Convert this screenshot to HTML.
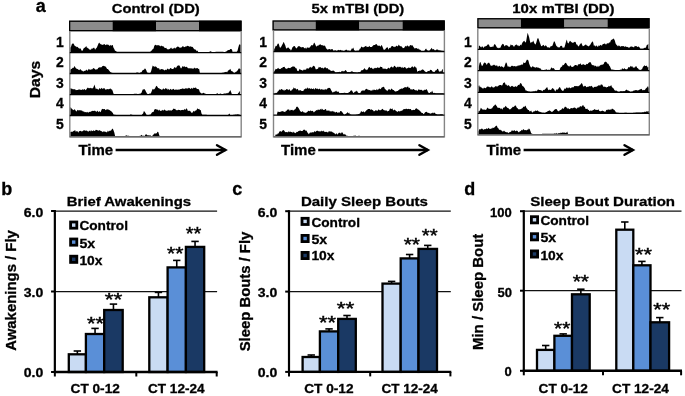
<!DOCTYPE html>
<html><head><meta charset="utf-8"><style>
html,body{margin:0;padding:0;background:#fff;}
svg{display:block;will-change:transform;}
</style></head><body>
<svg width="685" height="396" viewBox="0 0 685 396" shape-rendering="geometricPrecision">
<rect width="685" height="396" fill="#fff"/>
<text x="35.8" y="11.5" font-size="18" font-family="Liberation Sans, sans-serif" font-weight="bold" stroke="#000" stroke-width="0.3" fill="#000" >a</text>
<text x="111.7" y="13.4" font-size="13.3" font-family="Liberation Sans, sans-serif" font-weight="bold" stroke="#000" stroke-width="0.3" textLength="88.1" lengthAdjust="spacingAndGlyphs" fill="#000" >Control (DD)</text>
<rect x="69.0" y="20.6" width="43.50" height="10.70" fill="#8c8c8c"/>
<rect x="112.5" y="20.6" width="43.50" height="10.70" fill="#000"/>
<rect x="156.0" y="20.6" width="43.00" height="10.70" fill="#8c8c8c"/>
<rect x="199.0" y="20.6" width="42.60" height="10.70" fill="#000"/>
<rect x="69.65" y="21.25" width="171.30" height="9.40" fill="none" stroke="#000" stroke-width="1.3"/>
<path d="M70.30,52.55 L70.30,47.68 L71.10,46.45 L71.90,44.01 L72.70,43.51 L73.50,43.55 L74.30,45.08 L75.10,46.62 L75.90,46.12 L76.70,47.27 L77.50,46.86 L78.30,47.82 L79.10,48.47 L79.90,48.55 L80.70,48.51 L81.50,50.46 L82.30,50.96 L83.10,49.50 L83.90,47.98 L84.70,47.71 L85.50,47.09 L86.30,46.06 L87.10,48.33 L87.90,47.46 L88.70,48.97 L89.50,49.41 L90.30,49.64 L91.10,49.47 L91.90,48.18 L92.70,48.87 L93.50,47.69 L94.30,47.83 L95.10,49.73 L95.90,48.48 L96.70,47.63 L97.50,45.92 L98.30,43.94 L99.10,42.51 L99.90,43.54 L100.70,44.31 L101.50,44.40 L102.30,44.66 L103.10,44.97 L103.90,44.11 L104.70,44.31 L105.50,45.16 L106.30,44.59 L107.10,44.78 L107.90,44.43 L108.70,44.98 L109.50,46.06 L110.30,44.66 L111.10,45.92 L111.90,45.08 L112.70,44.95 L113.50,47.80 L114.30,48.95 L115.10,50.88 L115.90,50.78 L116.70,51.85 L117.50,51.85 L118.30,51.85 L119.10,51.85 L119.90,51.85 L120.70,51.85 L121.50,51.85 L122.30,51.85 L123.10,51.85 L123.90,51.85 L124.70,51.85 L125.50,51.85 L126.30,51.85 L127.10,51.85 L127.90,51.85 L128.70,51.85 L129.50,51.85 L130.30,51.85 L131.10,51.85 L131.90,51.85 L132.70,51.85 L133.50,51.85 L134.30,51.85 L135.10,51.85 L135.90,51.85 L136.70,51.85 L137.50,51.85 L138.30,51.85 L139.10,51.85 L139.90,51.85 L140.70,51.85 L141.50,51.85 L142.30,51.85 L143.10,51.85 L143.90,51.85 L144.70,51.85 L145.50,51.85 L146.30,51.85 L147.10,51.85 L147.90,51.85 L148.70,51.85 L149.50,51.85 L150.30,51.85 L151.10,50.87 L151.90,50.42 L152.70,49.07 L153.50,48.74 L154.30,45.81 L155.10,44.97 L155.90,44.86 L156.70,45.48 L157.50,45.14 L158.30,44.95 L159.10,45.80 L159.90,45.45 L160.70,46.54 L161.50,45.39 L162.30,46.18 L163.10,46.19 L163.90,46.71 L164.70,47.90 L165.50,47.93 L166.30,47.81 L167.10,49.39 L167.90,49.01 L168.70,49.48 L169.50,49.04 L170.30,48.61 L171.10,47.41 L171.90,48.73 L172.70,48.68 L173.50,48.58 L174.30,47.58 L175.10,48.67 L175.90,47.68 L176.70,47.17 L177.50,46.46 L178.30,46.86 L179.10,47.06 L179.90,48.01 L180.70,47.60 L181.50,47.54 L182.30,46.44 L183.10,46.09 L183.90,47.28 L184.70,46.97 L185.50,46.62 L186.30,46.52 L187.10,45.98 L187.90,45.70 L188.70,46.19 L189.50,46.85 L190.30,46.34 L191.10,46.67 L191.90,46.82 L192.70,46.89 L193.50,48.13 L194.30,49.17 L195.10,49.39 L195.90,49.68 L196.70,51.20 L197.50,50.45 L198.30,52.15 L199.10,52.15 L199.90,52.15 L200.70,52.15 L201.50,52.15 L202.30,52.15 L203.10,52.15 L203.90,52.15 L204.70,52.15 L205.50,52.15 L206.30,52.15 L207.10,52.15 L207.90,52.15 L208.70,52.15 L209.50,51.85 L210.30,51.37 L211.10,51.61 L211.90,52.09 L212.70,52.10 L213.50,52.04 L214.30,51.98 L215.10,51.92 L215.90,51.86 L216.70,51.80 L217.50,51.75 L218.30,51.69 L219.10,51.65 L219.90,51.65 L220.70,51.65 L221.50,51.65 L222.30,51.65 L223.10,51.78 L223.90,52.11 L224.70,51.93 L225.50,51.67 L226.30,51.41 L227.10,50.65 L227.90,50.23 L228.70,50.11 L229.50,50.12 L230.30,49.11 L231.10,48.95 L231.90,49.52 L232.70,52.07 L233.50,51.85 L234.30,51.85 L235.10,51.85 L235.90,51.85 L236.70,51.85 L237.50,50.77 L238.30,47.53 L239.10,44.63 L239.90,44.24 L240.70,45.11 L240.70,52.55 Z" fill="#000"/>
<path d="M70.30,73.50 L70.30,69.79 L71.10,69.07 L71.90,68.71 L72.70,67.79 L73.50,67.95 L74.30,66.09 L75.10,67.03 L75.90,68.34 L76.70,68.63 L77.50,68.95 L78.30,69.43 L79.10,70.36 L79.90,69.44 L80.70,69.36 L81.50,70.50 L82.30,70.65 L83.10,71.55 L83.90,71.33 L84.70,70.71 L85.50,70.66 L86.30,69.46 L87.10,70.50 L87.90,70.61 L88.70,68.80 L89.50,69.42 L90.30,69.95 L91.10,69.08 L91.90,69.84 L92.70,68.77 L93.50,67.94 L94.30,68.55 L95.10,69.25 L95.90,69.83 L96.70,69.24 L97.50,69.20 L98.30,67.71 L99.10,67.76 L99.90,66.94 L100.70,67.38 L101.50,67.20 L102.30,66.14 L103.10,65.83 L103.90,66.07 L104.70,66.15 L105.50,66.61 L106.30,67.39 L107.10,68.94 L107.90,69.02 L108.70,69.91 L109.50,71.10 L110.30,71.94 L111.10,72.41 L111.90,72.77 L112.70,73.06 L113.50,73.20 L114.30,73.20 L115.10,73.20 L115.90,73.20 L116.70,73.20 L117.50,73.20 L118.30,73.20 L119.10,73.20 L119.90,73.20 L120.70,73.20 L121.50,73.20 L122.30,73.20 L123.10,73.20 L123.90,73.20 L124.70,73.20 L125.50,73.20 L126.30,73.20 L127.10,73.20 L127.90,73.20 L128.70,73.20 L129.50,73.20 L130.30,73.20 L131.10,73.20 L131.90,73.20 L132.70,73.20 L133.50,73.20 L134.30,73.20 L135.10,73.20 L135.90,73.02 L136.70,72.52 L137.50,72.55 L138.30,72.75 L139.10,72.95 L139.90,72.94 L140.70,72.32 L141.50,72.13 L142.30,70.73 L143.10,69.66 L143.90,69.98 L144.70,68.51 L145.50,68.83 L146.30,70.30 L147.10,72.52 L147.90,72.78 L148.70,72.88 L149.50,72.97 L150.30,73.06 L151.10,71.29 L151.90,68.27 L152.70,65.48 L153.50,66.21 L154.30,66.74 L155.10,66.52 L155.90,66.57 L156.70,67.21 L157.50,68.37 L158.30,68.33 L159.10,68.34 L159.90,69.90 L160.70,69.14 L161.50,68.96 L162.30,69.25 L163.10,69.37 L163.90,69.92 L164.70,70.51 L165.50,69.47 L166.30,70.13 L167.10,69.09 L167.90,68.59 L168.70,69.43 L169.50,69.23 L170.30,68.06 L171.10,68.29 L171.90,69.11 L172.70,69.01 L173.50,68.79 L174.30,67.28 L175.10,67.31 L175.90,68.35 L176.70,66.81 L177.50,65.74 L178.30,65.52 L179.10,65.27 L179.90,66.27 L180.70,68.20 L181.50,68.15 L182.30,66.17 L183.10,66.49 L183.90,66.78 L184.70,66.23 L185.50,67.30 L186.30,66.69 L187.10,66.95 L187.90,68.21 L188.70,68.27 L189.50,68.33 L190.30,68.56 L191.10,68.08 L191.90,68.71 L192.70,68.39 L193.50,68.87 L194.30,67.43 L195.10,68.39 L195.90,68.25 L196.70,68.24 L197.50,67.88 L198.30,68.96 L199.10,68.83 L199.90,73.10 L200.70,73.10 L201.50,73.10 L202.30,73.10 L203.10,73.10 L203.90,73.10 L204.70,73.10 L205.50,73.10 L206.30,73.10 L207.10,73.10 L207.90,73.10 L208.70,73.10 L209.50,73.10 L210.30,73.10 L211.10,73.10 L211.90,73.10 L212.70,73.10 L213.50,73.10 L214.30,73.10 L215.10,73.10 L215.90,73.10 L216.70,73.10 L217.50,73.10 L218.30,73.10 L219.10,73.10 L219.90,73.10 L220.70,73.10 L221.50,72.99 L222.30,72.81 L223.10,72.63 L223.90,72.44 L224.70,72.24 L225.50,72.00 L226.30,71.82 L227.10,72.45 L227.90,70.77 L228.70,70.32 L229.50,69.72 L230.30,68.75 L231.10,70.80 L231.90,71.17 L232.70,71.50 L233.50,72.47 L234.30,73.03 L235.10,72.56 L235.90,71.83 L236.70,71.62 L237.50,70.45 L238.30,69.36 L239.10,67.92 L239.90,69.32 L240.70,68.85 L240.70,73.50 Z" fill="#000"/>
<path d="M70.30,94.55 L70.30,88.10 L71.10,88.71 L71.90,88.48 L72.70,89.23 L73.50,89.36 L74.30,89.22 L75.10,89.17 L75.90,90.24 L76.70,89.97 L77.50,90.01 L78.30,89.85 L79.10,89.37 L79.90,89.65 L80.70,89.65 L81.50,89.94 L82.30,89.29 L83.10,89.87 L83.90,89.40 L84.70,89.12 L85.50,90.20 L86.30,89.50 L87.10,88.19 L87.90,87.49 L88.70,88.30 L89.50,88.33 L90.30,87.75 L91.10,88.42 L91.90,88.12 L92.70,88.42 L93.50,87.34 L94.30,84.54 L95.10,86.67 L95.90,89.30 L96.70,88.54 L97.50,88.90 L98.30,89.93 L99.10,88.44 L99.90,88.13 L100.70,89.31 L101.50,87.84 L102.30,88.79 L103.10,88.79 L103.90,88.05 L104.70,88.49 L105.50,89.86 L106.30,89.39 L107.10,89.03 L107.90,89.13 L108.70,89.18 L109.50,88.88 L110.30,88.15 L111.10,89.41 L111.90,89.25 L112.70,91.06 L113.50,93.67 L114.30,94.05 L115.10,94.05 L115.90,94.05 L116.70,94.05 L117.50,94.05 L118.30,94.05 L119.10,94.05 L119.90,94.05 L120.70,94.05 L121.50,94.05 L122.30,94.05 L123.10,94.05 L123.90,94.05 L124.70,94.05 L125.50,94.05 L126.30,94.05 L127.10,94.05 L127.90,94.05 L128.70,94.05 L129.50,94.05 L130.30,94.05 L131.10,94.05 L131.90,94.05 L132.70,94.05 L133.50,93.93 L134.30,93.74 L135.10,93.65 L135.90,93.65 L136.70,93.70 L137.50,93.92 L138.30,94.00 L139.10,93.87 L139.90,93.73 L140.70,93.60 L141.50,92.77 L142.30,90.50 L143.10,88.96 L143.90,89.86 L144.70,88.91 L145.50,90.70 L146.30,92.23 L147.10,93.76 L147.90,94.04 L148.70,94.11 L149.50,93.57 L150.30,93.74 L151.10,92.67 L151.90,90.68 L152.70,88.78 L153.50,89.39 L154.30,89.33 L155.10,88.17 L155.90,86.46 L156.70,85.79 L157.50,86.92 L158.30,88.20 L159.10,87.89 L159.90,89.28 L160.70,88.88 L161.50,89.81 L162.30,89.70 L163.10,88.40 L163.90,88.71 L164.70,89.44 L165.50,88.02 L166.30,88.71 L167.10,88.54 L167.90,89.97 L168.70,88.72 L169.50,90.23 L170.30,88.80 L171.10,89.53 L171.90,89.74 L172.70,89.35 L173.50,88.68 L174.30,89.87 L175.10,90.02 L175.90,89.21 L176.70,89.64 L177.50,89.78 L178.30,89.59 L179.10,89.69 L179.90,89.36 L180.70,89.11 L181.50,89.08 L182.30,88.22 L183.10,89.01 L183.90,88.59 L184.70,89.08 L185.50,88.35 L186.30,88.52 L187.10,88.24 L187.90,88.80 L188.70,87.65 L189.50,88.11 L190.30,88.90 L191.10,88.53 L191.90,87.66 L192.70,88.94 L193.50,87.45 L194.30,87.93 L195.10,87.76 L195.90,87.58 L196.70,88.80 L197.50,89.01 L198.30,89.11 L199.10,89.87 L199.90,92.32 L200.70,92.73 L201.50,93.53 L202.30,93.38 L203.10,92.85 L203.90,93.03 L204.70,93.54 L205.50,93.80 L206.30,94.06 L207.10,94.25 L207.90,94.25 L208.70,94.25 L209.50,94.25 L210.30,94.25 L211.10,94.25 L211.90,94.25 L212.70,94.25 L213.50,94.25 L214.30,94.25 L215.10,94.25 L215.90,94.25 L216.70,93.43 L217.50,93.22 L218.30,93.99 L219.10,94.03 L219.90,93.74 L220.70,93.44 L221.50,93.95 L222.30,93.91 L223.10,94.11 L223.90,93.43 L224.70,93.52 L225.50,93.62 L226.30,93.51 L227.10,92.86 L227.90,93.52 L228.70,92.57 L229.50,91.47 L230.30,90.05 L231.10,91.91 L231.90,94.25 L232.70,94.25 L233.50,94.25 L234.30,94.25 L235.10,94.25 L235.90,94.25 L236.70,94.25 L237.50,94.25 L238.30,92.98 L239.10,92.15 L239.90,90.68 L239.90,94.55 Z" fill="#000"/>
<path d="M70.30,115.50 L70.30,107.27 L71.10,107.77 L71.90,109.12 L72.70,109.40 L73.50,110.23 L74.30,109.37 L75.10,109.75 L75.90,110.92 L76.70,111.46 L77.50,109.76 L78.30,110.54 L79.10,110.06 L79.90,110.50 L80.70,110.20 L81.50,110.42 L82.30,110.76 L83.10,111.69 L83.90,111.29 L84.70,112.31 L85.50,111.96 L86.30,112.39 L87.10,111.84 L87.90,112.43 L88.70,112.41 L89.50,111.84 L90.30,111.91 L91.10,111.22 L91.90,111.26 L92.70,110.81 L93.50,110.92 L94.30,110.87 L95.10,110.63 L95.90,111.57 L96.70,111.74 L97.50,110.62 L98.30,112.18 L99.10,111.20 L99.90,111.41 L100.70,112.13 L101.50,109.67 L102.30,108.79 L103.10,109.27 L103.90,109.08 L104.70,108.94 L105.50,110.15 L106.30,109.46 L107.10,109.49 L107.90,109.24 L108.70,109.68 L109.50,110.03 L110.30,110.85 L111.10,110.89 L111.90,112.07 L112.70,112.85 L113.50,114.49 L114.30,114.64 L115.10,114.78 L115.90,114.92 L116.70,115.06 L117.50,115.20 L118.30,115.20 L119.10,115.20 L119.90,115.20 L120.70,115.20 L121.50,115.20 L122.30,115.20 L123.10,115.20 L123.90,115.20 L124.70,115.20 L125.50,115.20 L126.30,115.20 L127.10,115.20 L127.90,115.20 L128.70,115.20 L129.50,115.20 L130.30,114.50 L131.10,114.54 L131.90,114.76 L132.70,114.90 L133.50,115.20 L134.30,115.20 L135.10,115.20 L135.90,115.20 L136.70,115.20 L137.50,115.20 L138.30,115.20 L139.10,115.20 L139.90,115.20 L140.70,115.20 L141.50,115.20 L142.30,114.37 L143.10,113.60 L143.90,111.06 L144.70,111.86 L145.50,112.97 L146.30,114.43 L147.10,115.16 L147.90,115.05 L148.70,114.94 L149.50,114.84 L150.30,114.73 L151.10,113.63 L151.90,112.41 L152.70,111.92 L153.50,111.99 L154.30,109.76 L155.10,109.05 L155.90,109.31 L156.70,109.43 L157.50,109.39 L158.30,110.64 L159.10,109.59 L159.90,110.52 L160.70,110.91 L161.50,110.63 L162.30,109.85 L163.10,110.86 L163.90,109.96 L164.70,109.61 L165.50,110.56 L166.30,110.83 L167.10,110.74 L167.90,110.44 L168.70,110.37 L169.50,110.55 L170.30,110.15 L171.10,110.80 L171.90,110.32 L172.70,109.76 L173.50,108.52 L174.30,108.95 L175.10,108.76 L175.90,110.04 L176.70,110.24 L177.50,110.15 L178.30,109.70 L179.10,109.95 L179.90,110.00 L180.70,110.55 L181.50,110.01 L182.30,109.96 L183.10,109.82 L183.90,110.30 L184.70,108.77 L185.50,109.88 L186.30,108.34 L187.10,108.94 L187.90,111.11 L188.70,110.84 L189.50,110.72 L190.30,110.97 L191.10,112.43 L191.90,112.82 L192.70,112.52 L193.50,110.80 L194.30,111.72 L195.10,110.62 L195.90,110.87 L196.70,109.64 L197.50,108.33 L198.30,109.26 L199.10,108.73 L199.90,110.00 L200.70,110.03 L201.50,113.46 L202.30,114.81 L203.10,114.82 L203.90,114.83 L204.70,114.85 L205.50,114.86 L206.30,114.87 L207.10,114.88 L207.90,114.89 L208.70,114.91 L209.50,114.92 L210.30,114.93 L211.10,114.94 L211.90,114.96 L212.70,114.97 L213.50,114.98 L214.30,114.99 L215.10,115.00 L215.90,115.02 L216.70,115.03 L217.50,115.04 L218.30,115.05 L219.10,115.06 L219.90,115.08 L220.70,115.09 L221.50,115.10 L222.30,115.11 L223.10,115.13 L223.90,115.14 L224.70,115.15 L225.50,115.16 L226.30,115.17 L227.10,115.19 L227.90,115.20 L228.70,114.21 L229.50,113.43 L230.30,115.17 L231.10,115.07 L231.90,114.98 L232.70,114.89 L233.50,114.80 L234.30,114.70 L235.10,114.61 L235.90,114.52 L236.70,114.43 L237.50,114.33 L238.30,114.16 L239.10,114.74 L239.90,114.52 L239.90,115.50 Z" fill="#000"/>
<path d="M70.30,136.85 L70.30,132.06 L71.10,131.82 L71.90,131.77 L72.70,131.75 L73.50,131.07 L74.30,130.80 L75.10,129.99 L75.90,131.90 L76.70,130.95 L77.50,131.19 L78.30,132.66 L79.10,131.00 L79.90,131.18 L80.70,130.63 L81.50,131.53 L82.30,131.25 L83.10,131.09 L83.90,129.88 L84.70,130.49 L85.50,130.77 L86.30,130.53 L87.10,130.87 L87.90,131.47 L88.70,131.56 L89.50,130.43 L90.30,131.47 L91.10,130.11 L91.90,131.17 L92.70,130.95 L93.50,130.33 L94.30,131.00 L95.10,130.76 L95.90,129.81 L96.70,130.03 L97.50,130.25 L98.30,130.67 L99.10,130.26 L99.90,130.30 L100.70,131.11 L101.50,130.95 L102.30,132.30 L103.10,131.21 L103.90,131.86 L104.70,131.45 L105.50,131.79 L106.30,132.17 L107.10,132.34 L107.90,130.50 L108.70,131.67 L109.50,130.79 L110.30,130.76 L111.10,130.50 L111.90,129.27 L112.70,128.42 L113.50,130.15 L114.30,132.49 L115.10,135.92 L115.90,136.35 L116.70,136.35 L117.50,136.35 L118.30,136.35 L119.10,136.35 L119.90,136.35 L120.70,136.35 L121.50,136.35 L122.30,136.35 L123.10,136.35 L123.90,136.35 L124.70,136.19 L125.50,135.77 L126.30,135.37 L127.10,135.77 L127.90,135.69 L128.70,135.80 L129.50,135.91 L130.30,136.02 L131.10,136.12 L131.90,136.15 L132.70,136.15 L133.50,136.15 L134.30,136.15 L135.10,136.15 L135.90,136.15 L136.70,136.15 L137.50,136.15 L138.30,135.99 L139.10,136.17 L139.90,135.76 L140.70,135.84 L141.50,134.75 L142.30,135.65 L143.10,135.81 L143.90,135.71 L144.70,136.03 L145.50,134.61 L146.30,134.26 L147.10,135.06 L147.90,135.44 L148.70,135.25 L149.50,135.62 L150.30,135.36 L151.10,136.00 L151.90,135.92 L152.70,135.48 L153.50,134.52 L154.30,133.55 L155.10,133.40 L155.90,133.59 L156.70,133.16 L157.50,131.81 L158.30,132.04 L159.10,134.70 L159.90,136.68 L159.90,136.85 Z" fill="#000"/>
<path d="M69.8,31.3 L69.8,136.85 L241.2,136.85 L241.2,31.3" fill="none" stroke="#858585" stroke-width="1.4"/>
<line x1="69.8" y1="52.55" x2="241.2" y2="52.55" stroke="#000" stroke-width="1.35"/>
<line x1="69.8" y1="73.5" x2="241.2" y2="73.5" stroke="#000" stroke-width="1.35"/>
<line x1="69.8" y1="94.55" x2="241.2" y2="94.55" stroke="#000" stroke-width="1.35"/>
<line x1="69.8" y1="115.5" x2="241.2" y2="115.5" stroke="#000" stroke-width="1.35"/>
<line x1="69.8" y1="136.85" x2="241.2" y2="136.85" stroke="#6a6a6a" stroke-width="1.5"/>
<text x="59.85" y="46.5" font-size="13.9" font-family="Liberation Sans, sans-serif" font-weight="bold" stroke="#000" stroke-width="0.3" text-anchor="middle" fill="#000" >1</text>
<text x="59.85" y="67.1" font-size="13.9" font-family="Liberation Sans, sans-serif" font-weight="bold" stroke="#000" stroke-width="0.3" text-anchor="middle" fill="#000" >2</text>
<text x="59.85" y="87.7" font-size="13.9" font-family="Liberation Sans, sans-serif" font-weight="bold" stroke="#000" stroke-width="0.3" text-anchor="middle" fill="#000" >3</text>
<text x="59.85" y="108.3" font-size="13.9" font-family="Liberation Sans, sans-serif" font-weight="bold" stroke="#000" stroke-width="0.3" text-anchor="middle" fill="#000" >4</text>
<text x="59.85" y="128.9" font-size="13.9" font-family="Liberation Sans, sans-serif" font-weight="bold" stroke="#000" stroke-width="0.3" text-anchor="middle" fill="#000" >5</text>
<text x="311.6" y="13.4" font-size="13.3" font-family="Liberation Sans, sans-serif" font-weight="bold" stroke="#000" stroke-width="0.3" textLength="92.7" lengthAdjust="spacingAndGlyphs" fill="#000" >5x mTBI (DD)</text>
<rect x="272.5" y="20.4" width="43.10" height="10.10" fill="#8c8c8c"/>
<rect x="315.6" y="20.4" width="43.90" height="10.10" fill="#000"/>
<rect x="359.5" y="20.4" width="43.00" height="10.10" fill="#8c8c8c"/>
<rect x="402.5" y="20.4" width="42.30" height="10.10" fill="#000"/>
<rect x="273.15" y="21.049999999999997" width="171.00" height="8.80" fill="none" stroke="#000" stroke-width="1.3"/>
<path d="M274.10,51.50 L274.10,49.29 L274.90,47.89 L275.70,45.63 L276.50,46.13 L277.30,44.44 L278.10,43.19 L278.90,44.22 L279.70,47.19 L280.50,47.74 L281.30,46.51 L282.10,44.96 L282.90,43.61 L283.70,41.81 L284.50,43.79 L285.30,45.53 L286.10,48.13 L286.90,48.44 L287.70,47.55 L288.50,47.54 L289.30,48.69 L290.10,49.04 L290.90,50.66 L291.70,49.34 L292.50,47.37 L293.30,46.54 L294.10,46.00 L294.90,46.16 L295.70,47.83 L296.50,48.46 L297.30,47.51 L298.10,46.16 L298.90,46.27 L299.70,46.21 L300.50,47.00 L301.30,47.53 L302.10,47.06 L302.90,47.34 L303.70,47.16 L304.50,48.50 L305.30,47.58 L306.10,48.98 L306.90,47.41 L307.70,47.58 L308.50,47.86 L309.30,47.85 L310.10,47.10 L310.90,45.82 L311.70,45.11 L312.50,45.41 L313.30,44.46 L314.10,42.61 L314.90,43.48 L315.70,45.47 L316.50,46.84 L317.30,45.54 L318.10,45.98 L318.90,44.84 L319.70,44.82 L320.50,44.32 L321.30,45.29 L322.10,45.03 L322.90,45.56 L323.70,45.78 L324.50,45.56 L325.30,46.21 L326.10,48.18 L326.90,49.11 L327.70,49.83 L328.50,49.18 L329.30,48.89 L330.10,49.34 L330.90,49.64 L331.70,49.09 L332.50,49.01 L333.30,50.65 L334.10,50.49 L334.90,50.40 L335.70,50.31 L336.50,51.07 L337.30,50.43 L338.10,50.20 L338.90,49.64 L339.70,50.50 L340.50,49.63 L341.30,50.38 L342.10,50.60 L342.90,50.81 L343.70,50.96 L344.50,50.63 L345.30,50.31 L346.10,49.55 L346.90,50.05 L347.70,50.81 L348.50,50.49 L349.30,50.70 L350.10,50.92 L350.90,50.41 L351.70,48.61 L352.50,48.85 L353.30,47.54 L354.10,49.88 L354.90,50.68 L355.70,50.91 L356.50,50.80 L357.30,50.69 L358.10,50.57 L358.90,50.64 L359.70,48.70 L360.50,48.56 L361.30,46.41 L362.10,47.01 L362.90,47.44 L363.70,47.26 L364.50,46.80 L365.30,46.23 L366.10,45.69 L366.90,47.14 L367.70,46.69 L368.50,47.02 L369.30,45.65 L370.10,47.06 L370.90,47.08 L371.70,46.93 L372.50,46.20 L373.30,45.15 L374.10,44.98 L374.90,44.99 L375.70,44.26 L376.50,44.12 L377.30,45.18 L378.10,46.12 L378.90,45.46 L379.70,45.80 L380.50,46.67 L381.30,45.12 L382.10,45.80 L382.90,47.73 L383.70,49.72 L384.50,49.85 L385.30,49.29 L386.10,47.94 L386.90,47.40 L387.70,47.23 L388.50,49.65 L389.30,47.76 L390.10,48.33 L390.90,47.26 L391.70,45.92 L392.50,45.92 L393.30,46.62 L394.10,47.31 L394.90,46.55 L395.70,46.66 L396.50,45.40 L397.30,46.44 L398.10,45.86 L398.90,44.62 L399.70,46.05 L400.50,46.16 L401.30,46.24 L402.10,47.12 L402.90,48.34 L403.70,47.96 L404.50,47.53 L405.30,45.71 L406.10,46.83 L406.90,45.87 L407.70,45.52 L408.50,46.45 L409.30,46.44 L410.10,44.92 L410.90,45.25 L411.70,45.60 L412.50,45.31 L413.30,46.83 L414.10,47.70 L414.90,48.85 L415.70,47.91 L416.50,48.04 L417.30,48.96 L418.10,48.14 L418.90,49.52 L419.70,49.38 L420.50,50.03 L421.30,51.07 L422.10,51.15 L422.90,51.09 L423.70,51.03 L424.50,50.66 L425.30,49.15 L426.10,48.47 L426.90,50.03 L427.70,50.55 L428.50,50.78 L429.30,50.64 L430.10,49.73 L430.90,49.03 L431.70,47.79 L432.50,49.60 L433.30,48.96 L434.10,49.54 L434.90,50.44 L435.70,50.34 L436.50,49.59 L437.30,49.50 L438.10,49.79 L438.90,50.47 L439.70,50.33 L440.50,50.50 L441.30,50.66 L442.10,50.83 L442.90,50.99 L443.70,51.16 L443.70,51.50 Z" fill="#000"/>
<path d="M274.10,73.00 L274.10,71.32 L274.90,70.42 L275.70,68.83 L276.50,69.27 L277.30,68.74 L278.10,67.74 L278.90,68.65 L279.70,68.98 L280.50,69.04 L281.30,68.02 L282.10,68.25 L282.90,66.89 L283.70,66.92 L284.50,66.85 L285.30,68.27 L286.10,68.71 L286.90,68.81 L287.70,68.20 L288.50,67.64 L289.30,67.94 L290.10,68.15 L290.90,67.58 L291.70,66.95 L292.50,66.59 L293.30,66.62 L294.10,66.60 L294.90,67.10 L295.70,68.24 L296.50,68.19 L297.30,70.77 L298.10,71.22 L298.90,70.54 L299.70,68.86 L300.50,69.65 L301.30,69.89 L302.10,70.22 L302.90,70.72 L303.70,69.48 L304.50,69.71 L305.30,69.83 L306.10,69.38 L306.90,67.98 L307.70,68.60 L308.50,68.84 L309.30,67.55 L310.10,67.58 L310.90,66.72 L311.70,67.90 L312.50,66.82 L313.30,65.78 L314.10,66.09 L314.90,66.75 L315.70,69.13 L316.50,69.18 L317.30,69.10 L318.10,68.59 L318.90,66.80 L319.70,67.55 L320.50,67.05 L321.30,68.17 L322.10,67.39 L322.90,68.26 L323.70,68.50 L324.50,67.40 L325.30,66.93 L326.10,68.41 L326.90,67.93 L327.70,68.28 L328.50,69.41 L329.30,69.54 L330.10,70.35 L330.90,70.63 L331.70,70.94 L332.50,70.72 L333.30,70.40 L334.10,71.01 L334.90,71.84 L335.70,72.64 L336.50,72.49 L337.30,72.33 L338.10,72.17 L338.90,72.02 L339.70,71.83 L340.50,72.45 L341.30,71.61 L342.10,70.71 L342.90,71.48 L343.70,71.16 L344.50,71.25 L345.30,70.09 L346.10,70.44 L346.90,71.69 L347.70,72.15 L348.50,71.97 L349.30,72.20 L350.10,71.93 L350.90,71.86 L351.70,71.31 L352.50,71.41 L353.30,71.91 L354.10,72.17 L354.90,72.40 L355.70,72.61 L356.50,72.82 L357.30,72.94 L358.10,72.50 L358.90,72.06 L359.70,72.36 L360.50,71.73 L361.30,70.23 L362.10,70.20 L362.90,69.88 L363.70,69.29 L364.50,67.94 L365.30,69.51 L366.10,69.47 L366.90,70.26 L367.70,69.35 L368.50,67.74 L369.30,66.71 L370.10,67.70 L370.90,68.26 L371.70,67.56 L372.50,68.75 L373.30,69.36 L374.10,67.81 L374.90,68.53 L375.70,67.67 L376.50,68.27 L377.30,67.23 L378.10,67.66 L378.90,67.87 L379.70,67.80 L380.50,66.51 L381.30,66.94 L382.10,67.05 L382.90,69.12 L383.70,68.38 L384.50,68.83 L385.30,68.59 L386.10,69.24 L386.90,68.99 L387.70,68.44 L388.50,67.45 L389.30,68.67 L390.10,67.73 L390.90,66.91 L391.70,66.38 L392.50,67.56 L393.30,67.48 L394.10,65.80 L394.90,65.88 L395.70,66.90 L396.50,67.81 L397.30,66.38 L398.10,67.48 L398.90,66.57 L399.70,67.08 L400.50,66.72 L401.30,67.91 L402.10,66.79 L402.90,67.90 L403.70,67.71 L404.50,67.05 L405.30,67.22 L406.10,68.52 L406.90,68.42 L407.70,67.96 L408.50,67.61 L409.30,67.71 L410.10,68.05 L410.90,67.70 L411.70,66.74 L412.50,66.33 L413.30,67.77 L414.10,66.73 L414.90,66.28 L415.70,67.47 L416.50,67.84 L417.30,72.09 L418.10,71.01 L418.90,70.90 L419.70,70.55 L420.50,70.80 L421.30,70.19 L422.10,69.50 L422.90,69.53 L423.70,69.91 L424.50,71.10 L425.30,71.80 L426.10,71.91 L426.90,72.39 L427.70,71.05 L428.50,71.02 L429.30,71.22 L430.10,70.01 L430.90,69.72 L431.70,70.17 L432.50,71.43 L433.30,71.67 L434.10,72.35 L434.90,71.59 L435.70,70.32 L436.50,70.21 L437.30,68.86 L438.10,69.07 L438.90,71.28 L439.70,71.83 L440.50,71.20 L441.30,71.56 L442.10,69.75 L442.90,69.04 L442.90,73.00 Z" fill="#000"/>
<path d="M275.30,94.00 L275.30,93.10 L276.10,92.68 L276.90,93.10 L277.70,91.59 L278.50,91.02 L279.30,89.19 L280.10,90.33 L280.90,89.20 L281.70,89.11 L282.50,89.74 L283.30,89.75 L284.10,91.03 L284.90,89.45 L285.70,90.13 L286.50,89.09 L287.30,88.95 L288.10,90.31 L288.90,89.39 L289.70,89.34 L290.50,91.10 L291.30,90.67 L292.10,89.14 L292.90,89.41 L293.70,87.29 L294.50,88.49 L295.30,87.90 L296.10,89.49 L296.90,89.23 L297.70,88.86 L298.50,90.45 L299.30,90.44 L300.10,90.09 L300.90,90.52 L301.70,91.12 L302.50,90.95 L303.30,91.08 L304.10,89.34 L304.90,89.20 L305.70,88.21 L306.50,88.92 L307.30,87.31 L308.10,88.73 L308.90,88.19 L309.70,88.22 L310.50,88.92 L311.30,88.21 L312.10,89.00 L312.90,89.00 L313.70,88.34 L314.50,89.63 L315.30,87.91 L316.10,88.48 L316.90,89.04 L317.70,88.45 L318.50,89.55 L319.30,88.38 L320.10,89.26 L320.90,89.78 L321.70,89.09 L322.50,89.61 L323.30,90.03 L324.10,88.95 L324.90,90.14 L325.70,88.69 L326.50,89.65 L327.30,88.68 L328.10,87.75 L328.90,88.15 L329.70,87.70 L330.50,88.64 L331.30,90.56 L332.10,91.85 L332.90,92.80 L333.70,91.75 L334.50,91.87 L335.30,91.51 L336.10,90.61 L336.90,91.77 L337.70,91.73 L338.50,91.44 L339.30,93.06 L340.10,93.58 L340.90,93.09 L341.70,93.02 L342.50,92.95 L343.30,92.89 L344.10,92.82 L344.90,92.85 L345.70,92.92 L346.50,92.98 L347.30,93.05 L348.10,92.90 L348.90,92.36 L349.70,92.01 L350.50,90.76 L351.30,90.20 L352.10,90.81 L352.90,92.36 L353.70,93.26 L354.50,91.91 L355.30,91.59 L356.10,91.61 L356.90,90.45 L357.70,92.27 L358.50,93.01 L359.30,92.96 L360.10,93.39 L360.90,91.84 L361.70,90.84 L362.50,90.43 L363.30,90.57 L364.10,90.41 L364.90,90.45 L365.70,88.90 L366.50,88.64 L367.30,89.42 L368.10,89.40 L368.90,90.27 L369.70,89.89 L370.50,90.46 L371.30,91.01 L372.10,89.51 L372.90,90.74 L373.70,89.54 L374.50,89.71 L375.30,89.95 L376.10,90.21 L376.90,88.86 L377.70,90.18 L378.50,89.15 L379.30,88.25 L380.10,89.27 L380.90,88.75 L381.70,87.59 L382.50,87.36 L383.30,86.70 L384.10,87.04 L384.90,88.99 L385.70,89.54 L386.50,90.36 L387.30,91.22 L388.10,89.47 L388.90,89.43 L389.70,89.31 L390.50,90.35 L391.30,88.61 L392.10,89.12 L392.90,90.03 L393.70,89.95 L394.50,90.88 L395.30,91.39 L396.10,91.39 L396.90,90.95 L397.70,91.09 L398.50,90.35 L399.30,89.39 L400.10,89.28 L400.90,88.63 L401.70,88.47 L402.50,88.87 L403.30,87.95 L404.10,87.84 L404.90,87.00 L405.70,87.27 L406.50,87.53 L407.30,86.64 L408.10,86.47 L408.90,88.22 L409.70,87.44 L410.50,89.40 L411.30,89.37 L412.10,89.82 L412.90,89.24 L413.70,89.07 L414.50,89.63 L415.30,90.59 L416.10,89.79 L416.90,90.69 L417.70,90.71 L418.50,89.37 L419.30,89.73 L420.10,89.68 L420.90,89.97 L421.70,89.65 L422.50,90.81 L423.30,90.39 L424.10,90.23 L424.90,89.53 L425.70,89.88 L426.50,88.95 L427.30,90.16 L428.10,92.36 L428.90,92.95 L429.70,93.05 L430.50,91.90 L431.30,92.47 L432.10,90.56 L432.90,92.44 L433.70,93.16 L434.50,92.81 L435.30,93.31 L436.10,93.51 L436.90,93.51 L437.70,93.52 L438.50,93.53 L439.30,93.54 L440.10,93.55 L440.90,93.56 L441.70,93.57 L442.50,93.58 L443.30,93.59 L443.30,94.00 Z" fill="#000"/>
<path d="M277.10,115.15 L277.10,113.16 L277.90,111.29 L278.70,111.95 L279.50,111.93 L280.30,111.74 L281.10,111.77 L281.90,110.91 L282.70,111.33 L283.50,111.52 L284.30,111.66 L285.10,112.34 L285.90,110.87 L286.70,110.75 L287.50,109.41 L288.30,109.40 L289.10,109.43 L289.90,111.08 L290.70,109.80 L291.50,109.88 L292.30,109.80 L293.10,110.72 L293.90,109.96 L294.70,109.54 L295.50,109.09 L296.30,107.03 L297.10,106.51 L297.90,107.33 L298.70,108.14 L299.50,109.65 L300.30,111.20 L301.10,111.79 L301.90,112.05 L302.70,111.12 L303.50,112.37 L304.30,112.42 L305.10,112.49 L305.90,113.07 L306.70,112.26 L307.50,111.82 L308.30,110.65 L309.10,111.02 L309.90,111.24 L310.70,110.22 L311.50,111.18 L312.30,110.69 L313.10,111.25 L313.90,112.44 L314.70,111.56 L315.50,111.11 L316.30,110.11 L317.10,110.48 L317.90,109.46 L318.70,109.63 L319.50,110.07 L320.30,108.77 L321.10,110.03 L321.90,108.58 L322.70,109.61 L323.50,109.98 L324.30,109.89 L325.10,109.16 L325.90,109.04 L326.70,111.06 L327.50,110.46 L328.30,110.73 L329.10,110.33 L329.90,111.57 L330.70,111.15 L331.50,111.55 L332.30,110.81 L333.10,111.98 L333.90,110.88 L334.70,112.19 L335.50,112.44 L336.30,111.68 L337.10,112.17 L337.90,112.99 L338.70,112.16 L339.50,112.82 L340.30,110.92 L341.10,111.00 L341.90,111.66 L342.70,112.77 L343.50,114.09 L344.30,114.65 L345.10,114.16 L345.90,113.85 L346.70,113.37 L347.50,111.99 L348.30,113.45 L349.10,112.51 L349.90,114.56 L350.70,114.21 L351.50,114.65 L352.30,114.65 L353.10,114.65 L353.90,114.65 L354.70,114.65 L355.50,114.65 L356.30,114.59 L357.10,114.43 L357.90,114.27 L358.70,113.97 L359.50,113.79 L360.30,112.97 L361.10,111.11 L361.90,111.70 L362.70,111.99 L363.50,111.15 L364.30,112.39 L365.10,111.79 L365.90,111.04 L366.70,110.01 L367.50,109.39 L368.30,108.96 L369.10,108.88 L369.90,109.12 L370.70,109.90 L371.50,109.13 L372.30,109.93 L373.10,110.26 L373.90,111.60 L374.70,110.93 L375.50,110.15 L376.30,110.32 L377.10,110.95 L377.90,110.17 L378.70,109.22 L379.50,110.26 L380.30,110.26 L381.10,109.97 L381.90,109.15 L382.70,108.81 L383.50,110.01 L384.30,110.31 L385.10,110.45 L385.90,110.61 L386.70,110.56 L387.50,111.51 L388.30,111.06 L389.10,110.72 L389.90,108.71 L390.70,108.56 L391.50,109.23 L392.30,108.16 L393.10,110.19 L393.90,110.17 L394.70,109.57 L395.50,110.39 L396.30,110.99 L397.10,111.65 L397.90,111.86 L398.70,110.84 L399.50,111.57 L400.30,111.16 L401.10,110.61 L401.90,111.02 L402.70,110.11 L403.50,109.15 L404.30,109.06 L405.10,109.15 L405.90,108.66 L406.70,108.71 L407.50,109.17 L408.30,108.66 L409.10,109.33 L409.90,109.05 L410.70,109.06 L411.50,110.24 L412.30,110.30 L413.10,109.85 L413.90,110.04 L414.70,109.99 L415.50,108.70 L416.30,108.13 L417.10,108.85 L417.90,109.51 L418.70,109.76 L419.50,110.60 L420.30,111.25 L421.10,112.18 L421.90,113.04 L422.70,113.07 L423.50,114.37 L424.30,113.38 L425.10,112.32 L425.90,112.03 L426.70,111.77 L427.50,112.76 L428.30,112.86 L429.10,113.21 L429.90,113.33 L430.70,113.81 L431.50,113.13 L432.30,112.48 L433.10,113.62 L433.90,112.57 L434.70,112.76 L435.50,113.87 L436.30,114.08 L437.10,114.50 L437.90,114.59 L438.70,114.50 L439.50,114.41 L440.30,114.32 L441.10,114.23 L441.90,114.14 L442.70,114.05 L442.70,115.15 Z" fill="#000"/>
<path d="M275.30,136.75 L275.30,135.37 L276.10,133.88 L276.90,134.95 L277.70,133.42 L278.50,133.49 L279.30,131.85 L280.10,131.11 L280.90,131.40 L281.70,131.69 L282.50,130.38 L283.30,129.98 L284.10,130.46 L284.90,131.63 L285.70,132.20 L286.50,131.91 L287.30,132.26 L288.10,132.26 L288.90,131.09 L289.70,132.31 L290.50,131.59 L291.30,132.25 L292.10,131.72 L292.90,133.01 L293.70,131.59 L294.50,132.86 L295.30,133.21 L296.10,132.42 L296.90,131.81 L297.70,132.12 L298.50,131.07 L299.30,130.97 L300.10,130.36 L300.90,130.89 L301.70,130.94 L302.50,130.91 L303.30,129.88 L304.10,129.42 L304.90,130.06 L305.70,130.86 L306.50,130.61 L307.30,132.14 L308.10,133.27 L308.90,134.22 L309.70,132.78 L310.50,132.45 L311.30,132.49 L312.10,132.52 L312.90,132.08 L313.70,132.41 L314.50,130.88 L315.30,131.89 L316.10,131.29 L316.90,130.87 L317.70,130.79 L318.50,131.32 L319.30,131.55 L320.10,131.00 L320.90,131.67 L321.70,130.41 L322.50,131.39 L323.30,130.62 L324.10,131.79 L324.90,131.72 L325.70,132.06 L326.50,131.87 L327.30,132.19 L328.10,132.38 L328.90,130.94 L329.70,131.59 L330.50,131.52 L331.30,131.47 L332.10,131.78 L332.90,132.51 L333.70,132.77 L334.50,133.37 L335.30,134.54 L336.10,133.52 L336.90,133.45 L337.70,134.68 L338.50,133.09 L339.30,132.74 L340.10,132.76 L340.90,133.72 L341.70,132.28 L342.50,132.44 L343.30,134.12 L344.10,134.82 L344.90,133.81 L345.70,135.03 L346.50,135.70 L347.30,135.79 L348.10,135.88 L348.90,135.97 L349.70,136.06 L350.50,136.15 L351.30,136.24 L352.10,136.13 L352.90,136.00 L353.70,135.86 L354.50,135.72 L355.30,135.59 L356.10,135.90 L356.90,136.10 L357.70,136.16 L358.50,135.66 L359.30,135.79 L360.10,135.93 L360.90,136.06 L361.70,136.20 L362.50,136.50 L362.50,136.75 Z" fill="#000"/>
<path d="M273.5,30.5 L273.5,136.75 L444.4,136.75 L444.4,30.5" fill="none" stroke="#858585" stroke-width="1.4"/>
<line x1="273.5" y1="51.5" x2="444.4" y2="51.5" stroke="#000" stroke-width="1.35"/>
<line x1="273.5" y1="73.0" x2="444.4" y2="73.0" stroke="#000" stroke-width="1.35"/>
<line x1="273.5" y1="94.0" x2="444.4" y2="94.0" stroke="#000" stroke-width="1.35"/>
<line x1="273.5" y1="115.15" x2="444.4" y2="115.15" stroke="#000" stroke-width="1.35"/>
<line x1="273.5" y1="136.75" x2="444.4" y2="136.75" stroke="#6a6a6a" stroke-width="1.5"/>
<text x="263.0" y="46.5" font-size="13.9" font-family="Liberation Sans, sans-serif" font-weight="bold" stroke="#000" stroke-width="0.3" text-anchor="middle" fill="#000" >1</text>
<text x="263.0" y="67.1" font-size="13.9" font-family="Liberation Sans, sans-serif" font-weight="bold" stroke="#000" stroke-width="0.3" text-anchor="middle" fill="#000" >2</text>
<text x="263.0" y="87.7" font-size="13.9" font-family="Liberation Sans, sans-serif" font-weight="bold" stroke="#000" stroke-width="0.3" text-anchor="middle" fill="#000" >3</text>
<text x="263.0" y="108.3" font-size="13.9" font-family="Liberation Sans, sans-serif" font-weight="bold" stroke="#000" stroke-width="0.3" text-anchor="middle" fill="#000" >4</text>
<text x="263.0" y="128.9" font-size="13.9" font-family="Liberation Sans, sans-serif" font-weight="bold" stroke="#000" stroke-width="0.3" text-anchor="middle" fill="#000" >5</text>
<text x="512.3" y="13.4" font-size="13.3" font-family="Liberation Sans, sans-serif" font-weight="bold" stroke="#000" stroke-width="0.3" textLength="102.2" lengthAdjust="spacingAndGlyphs" fill="#000" >10x mTBI (DD)</text>
<rect x="477.3" y="18.1" width="43.50" height="10.30" fill="#8c8c8c"/>
<rect x="520.8" y="18.1" width="43.70" height="10.30" fill="#000"/>
<rect x="564.5" y="18.1" width="43.00" height="10.30" fill="#8c8c8c"/>
<rect x="607.5" y="18.1" width="42.10" height="10.30" fill="#000"/>
<rect x="477.95" y="18.75" width="171.00" height="9.00" fill="none" stroke="#000" stroke-width="1.3"/>
<path d="M478.80,49.35 L478.80,46.13 L479.60,45.55 L480.40,46.73 L481.20,47.39 L482.00,46.28 L482.80,46.72 L483.60,48.01 L484.40,46.39 L485.20,46.59 L486.00,45.96 L486.80,45.65 L487.60,44.60 L488.40,44.35 L489.20,45.18 L490.00,47.25 L490.80,46.70 L491.60,46.99 L492.40,46.61 L493.20,46.99 L494.00,44.83 L494.80,44.06 L495.60,44.98 L496.40,46.48 L497.20,48.10 L498.00,47.55 L498.80,48.42 L499.60,47.78 L500.40,47.63 L501.20,45.79 L502.00,44.56 L502.80,43.81 L503.60,44.14 L504.40,46.60 L505.20,45.16 L506.00,45.39 L506.80,44.96 L507.60,45.78 L508.40,46.46 L509.20,47.12 L510.00,46.16 L510.80,44.30 L511.60,45.21 L512.40,45.00 L513.20,45.80 L514.00,46.94 L514.80,45.48 L515.60,44.93 L516.40,44.27 L517.20,45.76 L518.00,44.98 L518.80,46.23 L519.60,45.93 L520.40,44.60 L521.20,45.56 L522.00,43.40 L522.80,42.09 L523.60,41.13 L524.40,40.77 L525.20,42.53 L526.00,41.91 L526.80,37.45 L527.60,32.65 L528.40,34.88 L529.20,37.57 L530.00,41.41 L530.80,43.26 L531.60,42.00 L532.40,42.19 L533.20,40.46 L534.00,42.52 L534.80,43.94 L535.60,44.61 L536.40,42.17 L537.20,39.31 L538.00,37.87 L538.80,39.45 L539.60,42.11 L540.40,44.06 L541.20,46.19 L542.00,45.88 L542.80,45.37 L543.60,44.78 L544.40,46.44 L545.20,45.54 L546.00,45.57 L546.80,46.39 L547.60,47.45 L548.40,47.16 L549.20,47.86 L550.00,47.50 L550.80,45.98 L551.60,46.34 L552.40,45.81 L553.20,43.52 L554.00,41.24 L554.80,41.83 L555.60,43.98 L556.40,46.12 L557.20,46.61 L558.00,47.40 L558.80,47.37 L559.60,47.53 L560.40,46.03 L561.20,45.73 L562.00,46.08 L562.80,48.03 L563.60,47.62 L564.40,47.62 L565.20,44.80 L566.00,41.82 L566.80,39.57 L567.60,42.77 L568.40,43.56 L569.20,41.98 L570.00,40.75 L570.80,41.49 L571.60,42.21 L572.40,42.66 L573.20,42.64 L574.00,42.23 L574.80,41.65 L575.60,41.88 L576.40,44.54 L577.20,44.56 L578.00,46.05 L578.80,46.44 L579.60,44.72 L580.40,44.06 L581.20,42.63 L582.00,44.50 L582.80,46.31 L583.60,46.05 L584.40,45.47 L585.20,44.64 L586.00,44.41 L586.80,45.48 L587.60,45.76 L588.40,46.48 L589.20,45.67 L590.00,45.18 L590.80,43.82 L591.60,42.59 L592.40,41.14 L593.20,42.60 L594.00,46.30 L594.80,45.11 L595.60,46.69 L596.40,45.28 L597.20,46.62 L598.00,46.82 L598.80,45.32 L599.60,45.90 L600.40,44.74 L601.20,45.45 L602.00,45.43 L602.80,43.97 L603.60,43.96 L604.40,43.59 L605.20,43.70 L606.00,44.74 L606.80,43.59 L607.60,43.24 L608.40,43.48 L609.20,42.27 L610.00,42.69 L610.80,40.61 L611.60,39.83 L612.40,39.62 L613.20,38.53 L614.00,39.06 L614.80,40.44 L615.60,43.43 L616.40,44.65 L617.20,45.54 L618.00,46.55 L618.80,45.30 L619.60,45.97 L620.40,46.74 L621.20,46.19 L622.00,45.93 L622.80,46.32 L623.60,46.02 L624.40,47.12 L625.20,46.08 L626.00,47.03 L626.80,46.70 L627.60,46.90 L628.40,47.46 L629.20,47.69 L630.00,46.93 L630.80,46.46 L631.60,46.58 L632.40,46.79 L633.20,47.11 L634.00,47.44 L634.80,45.80 L635.60,46.28 L636.40,46.06 L637.20,46.95 L638.00,46.68 L638.80,46.61 L639.60,47.46 L640.40,48.65 L641.20,48.65 L642.00,48.65 L642.80,48.65 L643.60,48.41 L644.40,47.84 L645.20,47.98 L646.00,47.15 L646.80,45.03 L647.60,44.66 L648.40,43.80 L648.40,49.35 Z" fill="#000"/>
<path d="M478.80,70.60 L478.80,67.02 L479.60,63.10 L480.40,61.73 L481.20,64.24 L482.00,66.31 L482.80,65.21 L483.60,63.56 L484.40,62.44 L485.20,62.83 L486.00,63.50 L486.80,65.06 L487.60,63.23 L488.40,62.85 L489.20,62.69 L490.00,64.23 L490.80,65.77 L491.60,65.74 L492.40,65.58 L493.20,65.37 L494.00,64.54 L494.80,65.13 L495.60,65.78 L496.40,65.47 L497.20,65.56 L498.00,67.04 L498.80,66.05 L499.60,65.72 L500.40,66.98 L501.20,66.31 L502.00,66.38 L502.80,66.96 L503.60,67.63 L504.40,66.77 L505.20,64.15 L506.00,62.34 L506.80,63.30 L507.60,66.41 L508.40,66.60 L509.20,66.52 L510.00,67.35 L510.80,66.58 L511.60,65.87 L512.40,65.76 L513.20,66.27 L514.00,66.22 L514.80,65.88 L515.60,66.46 L516.40,66.32 L517.20,66.23 L518.00,65.17 L518.80,65.67 L519.60,65.19 L520.40,65.31 L521.20,64.61 L522.00,64.78 L522.80,64.48 L523.60,62.27 L524.40,62.96 L525.20,63.02 L526.00,61.43 L526.80,59.83 L527.60,59.65 L528.40,60.55 L529.20,63.71 L530.00,65.82 L530.80,67.13 L531.60,67.52 L532.40,66.21 L533.20,66.58 L534.00,67.33 L534.80,67.24 L535.60,67.85 L536.40,66.98 L537.20,67.84 L538.00,67.24 L538.80,67.89 L539.60,68.13 L540.40,68.20 L541.20,69.79 L542.00,69.64 L542.80,69.94 L543.60,70.14 L544.40,69.67 L545.20,70.02 L546.00,69.26 L546.80,69.46 L547.60,70.02 L548.40,69.66 L549.20,69.69 L550.00,69.92 L550.80,68.44 L551.60,67.30 L552.40,68.42 L553.20,68.04 L554.00,68.61 L554.80,69.80 L555.60,70.20 L556.40,70.60 L557.20,70.39 L558.00,70.19 L558.80,69.98 L559.60,69.95 L560.40,67.82 L561.20,67.01 L562.00,66.48 L562.80,64.87 L563.60,65.34 L564.40,63.98 L565.20,63.05 L566.00,62.86 L566.80,64.14 L567.60,65.41 L568.40,65.94 L569.20,66.67 L570.00,65.43 L570.80,65.59 L571.60,66.88 L572.40,67.07 L573.20,66.55 L574.00,66.24 L574.80,65.11 L575.60,64.94 L576.40,64.88 L577.20,66.13 L578.00,64.56 L578.80,64.37 L579.60,64.15 L580.40,63.21 L581.20,64.65 L582.00,64.91 L582.80,64.22 L583.60,64.31 L584.40,64.73 L585.20,65.21 L586.00,64.49 L586.80,63.85 L587.60,64.27 L588.40,63.12 L589.20,62.49 L590.00,61.98 L590.80,62.61 L591.60,64.46 L592.40,65.12 L593.20,65.60 L594.00,64.94 L594.80,66.45 L595.60,65.44 L596.40,66.52 L597.20,66.94 L598.00,65.47 L598.80,66.88 L599.60,65.64 L600.40,65.17 L601.20,64.54 L602.00,65.30 L602.80,64.19 L603.60,64.27 L604.40,62.23 L605.20,61.84 L606.00,61.67 L606.80,62.43 L607.60,63.67 L608.40,63.84 L609.20,65.55 L610.00,66.50 L610.80,68.61 L611.60,69.69 L612.40,69.59 L613.20,69.71 L614.00,69.83 L614.80,69.93 L615.60,70.01 L616.40,70.09 L617.20,70.16 L618.00,70.24 L618.80,70.22 L619.60,69.89 L620.40,69.55 L621.20,70.02 L622.00,68.51 L622.80,68.51 L623.60,69.33 L624.40,68.10 L625.20,69.26 L626.00,69.08 L626.80,69.62 L627.60,68.77 L628.40,67.11 L629.20,67.38 L630.00,67.04 L630.80,65.82 L631.60,66.73 L632.40,66.27 L633.20,68.29 L634.00,66.83 L634.80,68.08 L635.60,66.15 L636.40,66.30 L637.20,67.92 L638.00,68.24 L638.80,69.38 L639.60,69.70 L640.40,69.89 L641.20,69.44 L642.00,69.36 L642.80,67.22 L643.60,66.20 L644.40,65.32 L645.20,65.98 L646.00,66.09 L646.80,65.46 L647.60,67.43 L648.40,66.68 L648.40,70.60 Z" fill="#000"/>
<path d="M478.40,92.30 L478.40,85.97 L479.20,85.24 L480.00,87.48 L480.80,86.56 L481.60,87.71 L482.40,88.28 L483.20,88.74 L484.00,87.45 L484.80,88.06 L485.60,88.29 L486.40,87.47 L487.20,86.23 L488.00,87.10 L488.80,86.46 L489.60,87.35 L490.40,87.39 L491.20,86.44 L492.00,86.58 L492.80,87.39 L493.60,87.49 L494.40,87.36 L495.20,86.30 L496.00,86.35 L496.80,86.59 L497.60,86.55 L498.40,85.66 L499.20,85.33 L500.00,84.94 L500.80,85.07 L501.60,85.48 L502.40,85.35 L503.20,83.12 L504.00,82.68 L504.80,82.23 L505.60,84.68 L506.40,84.57 L507.20,86.00 L508.00,85.24 L508.80,85.36 L509.60,86.19 L510.40,87.21 L511.20,85.76 L512.00,86.54 L512.80,85.83 L513.60,86.92 L514.40,87.07 L515.20,85.90 L516.00,86.74 L516.80,86.86 L517.60,85.83 L518.40,84.77 L519.20,85.18 L520.00,83.60 L520.80,83.08 L521.60,84.01 L522.40,86.03 L523.20,86.26 L524.00,87.28 L524.80,88.30 L525.60,90.39 L526.40,90.56 L527.20,91.10 L528.00,91.27 L528.80,91.43 L529.60,91.60 L530.40,91.76 L531.20,91.70 L532.00,91.56 L532.80,91.43 L533.60,91.29 L534.40,91.15 L535.20,91.23 L536.00,90.42 L536.80,91.46 L537.60,89.80 L538.40,89.46 L539.20,90.08 L540.00,90.10 L540.80,90.28 L541.60,90.47 L542.40,91.61 L543.20,89.84 L544.00,90.31 L544.80,89.52 L545.60,88.80 L546.40,87.67 L547.20,87.12 L548.00,89.46 L548.80,90.26 L549.60,89.44 L550.40,89.95 L551.20,89.87 L552.00,88.42 L552.80,88.06 L553.60,89.08 L554.40,89.68 L555.20,91.68 L556.00,89.88 L556.80,89.29 L557.60,89.64 L558.40,88.63 L559.20,87.31 L560.00,87.30 L560.80,88.76 L561.60,90.11 L562.40,90.67 L563.20,91.10 L564.00,89.55 L564.80,88.33 L565.60,88.88 L566.40,87.60 L567.20,87.40 L568.00,88.56 L568.80,87.48 L569.60,87.40 L570.40,88.23 L571.20,87.97 L572.00,87.01 L572.80,87.38 L573.60,87.34 L574.40,85.97 L575.20,85.88 L576.00,86.28 L576.80,86.07 L577.60,86.16 L578.40,86.25 L579.20,85.53 L580.00,85.24 L580.80,83.90 L581.60,82.93 L582.40,83.92 L583.20,86.39 L584.00,86.48 L584.80,85.80 L585.60,85.96 L586.40,87.31 L587.20,87.11 L588.00,86.53 L588.80,86.70 L589.60,86.09 L590.40,86.61 L591.20,85.84 L592.00,86.19 L592.80,87.54 L593.60,87.81 L594.40,86.79 L595.20,86.97 L596.00,86.41 L596.80,86.69 L597.60,86.11 L598.40,85.61 L599.20,85.08 L600.00,86.09 L600.80,84.47 L601.60,84.62 L602.40,84.83 L603.20,86.52 L604.00,86.99 L604.80,86.49 L605.60,86.97 L606.40,87.57 L607.20,87.01 L608.00,87.02 L608.80,85.67 L609.60,86.46 L610.40,86.01 L611.20,84.99 L612.00,87.13 L612.80,87.70 L613.60,88.47 L614.40,90.08 L615.20,90.73 L616.00,90.57 L616.80,90.66 L617.60,91.54 L618.40,91.64 L619.20,91.68 L620.00,91.44 L620.80,91.12 L621.60,91.18 L622.40,91.23 L623.20,91.23 L624.00,91.10 L624.80,91.17 L625.60,90.13 L626.40,89.39 L627.20,90.13 L628.00,90.53 L628.80,90.71 L629.60,91.31 L630.40,91.64 L631.20,91.65 L632.00,91.35 L632.80,91.59 L633.60,90.38 L634.40,90.56 L635.20,90.29 L636.00,90.06 L636.80,90.21 L637.60,90.38 L638.40,90.29 L639.20,90.06 L640.00,89.26 L640.80,89.22 L641.60,88.77 L642.40,90.31 L643.20,90.20 L644.00,89.79 L644.80,90.17 L645.60,88.68 L646.40,87.89 L647.20,87.34 L648.00,86.11 L648.80,88.33 L648.80,92.30 Z" fill="#000"/>
<path d="M478.40,113.40 L478.40,111.11 L479.20,111.18 L480.00,110.31 L480.80,107.82 L481.60,108.47 L482.40,109.56 L483.20,109.38 L484.00,109.70 L484.80,109.38 L485.60,110.10 L486.40,109.49 L487.20,107.77 L488.00,107.77 L488.80,108.88 L489.60,108.75 L490.40,108.93 L491.20,108.56 L492.00,108.41 L492.80,106.99 L493.60,106.03 L494.40,105.57 L495.20,104.17 L496.00,105.20 L496.80,106.21 L497.60,107.76 L498.40,107.69 L499.20,107.99 L500.00,107.78 L500.80,109.36 L501.60,108.19 L502.40,109.82 L503.20,107.85 L504.00,107.57 L504.80,107.13 L505.60,105.69 L506.40,106.68 L507.20,107.78 L508.00,107.95 L508.80,108.61 L509.60,109.54 L510.40,109.26 L511.20,108.45 L512.00,107.76 L512.80,106.70 L513.60,106.90 L514.40,106.15 L515.20,105.29 L516.00,106.05 L516.80,107.64 L517.60,108.28 L518.40,109.17 L519.20,109.40 L520.00,109.10 L520.80,109.17 L521.60,108.55 L522.40,108.34 L523.20,107.04 L524.00,106.51 L524.80,106.87 L525.60,105.59 L526.40,108.11 L527.20,108.63 L528.00,110.09 L528.80,110.04 L529.60,111.56 L530.40,111.32 L531.20,110.62 L532.00,112.40 L532.80,112.38 L533.60,111.37 L534.40,111.42 L535.20,110.58 L536.00,110.77 L536.80,111.12 L537.60,110.21 L538.40,111.34 L539.20,111.65 L540.00,111.66 L540.80,112.31 L541.60,112.53 L542.40,112.63 L543.20,112.72 L544.00,112.81 L544.80,112.90 L545.60,112.40 L546.40,112.09 L547.20,111.65 L548.00,110.72 L548.80,111.09 L549.60,110.22 L550.40,110.91 L551.20,111.38 L552.00,112.26 L552.80,111.23 L553.60,110.66 L554.40,109.85 L555.20,109.30 L556.00,109.00 L556.80,109.36 L557.60,110.73 L558.40,111.32 L559.20,111.20 L560.00,109.85 L560.80,110.34 L561.60,109.32 L562.40,108.12 L563.20,108.93 L564.00,108.36 L564.80,106.87 L565.60,106.84 L566.40,107.33 L567.20,108.67 L568.00,107.88 L568.80,108.86 L569.60,109.25 L570.40,108.49 L571.20,108.08 L572.00,108.32 L572.80,108.19 L573.60,107.66 L574.40,107.46 L575.20,107.68 L576.00,108.46 L576.80,108.67 L577.60,107.60 L578.40,107.38 L579.20,107.56 L580.00,106.14 L580.80,106.34 L581.60,106.78 L582.40,105.49 L583.20,105.08 L584.00,106.75 L584.80,106.86 L585.60,108.89 L586.40,108.97 L587.20,108.60 L588.00,109.65 L588.80,110.10 L589.60,111.21 L590.40,110.60 L591.20,110.43 L592.00,110.88 L592.80,110.11 L593.60,110.12 L594.40,109.09 L595.20,109.65 L596.00,109.75 L596.80,110.08 L597.60,110.08 L598.40,109.31 L599.20,110.81 L600.00,111.14 L600.80,111.32 L601.60,110.89 L602.40,110.56 L603.20,111.14 L604.00,111.00 L604.80,112.01 L605.60,111.60 L606.40,109.73 L607.20,110.14 L608.00,109.23 L608.80,109.67 L609.60,109.80 L610.40,109.42 L611.20,109.79 L612.00,108.41 L612.80,109.05 L613.60,109.54 L614.40,109.88 L615.20,110.98 L616.00,112.56 L616.80,112.54 L617.60,112.69 L618.40,112.85 L619.20,113.01 L620.00,113.16 L620.80,113.15 L621.60,113.09 L622.40,113.03 L623.20,112.97 L624.00,112.91 L624.80,112.85 L625.60,112.81 L626.40,112.85 L627.20,112.90 L628.00,112.94 L628.80,112.99 L629.60,113.03 L630.40,113.08 L631.20,113.06 L632.00,112.99 L632.80,112.91 L633.60,112.84 L634.40,112.76 L635.20,112.68 L636.00,112.61 L636.80,112.57 L637.60,112.54 L638.40,112.51 L639.20,112.48 L640.00,112.45 L640.80,112.42 L641.60,112.38 L642.40,112.32 L643.20,112.26 L644.00,112.20 L644.80,111.44 L645.60,111.93 L646.40,111.20 L647.20,111.83 L648.00,111.05 L648.80,111.26 L648.80,113.40 Z" fill="#000"/>
<path d="M478.40,134.80 L478.40,131.52 L479.20,129.42 L480.00,129.05 L480.80,129.52 L481.60,128.40 L482.40,128.73 L483.20,129.83 L484.00,129.48 L484.80,128.88 L485.60,129.34 L486.40,128.14 L487.20,129.03 L488.00,128.39 L488.80,127.86 L489.60,128.96 L490.40,129.01 L491.20,128.20 L492.00,128.78 L492.80,127.57 L493.60,127.91 L494.40,127.38 L495.20,126.39 L496.00,126.05 L496.80,125.48 L497.60,127.78 L498.40,128.36 L499.20,129.89 L500.00,129.52 L500.80,130.18 L501.60,130.53 L502.40,131.51 L503.20,131.60 L504.00,130.54 L504.80,131.59 L505.60,131.98 L506.40,132.28 L507.20,132.32 L508.00,132.61 L508.80,133.18 L509.60,132.03 L510.40,131.93 L511.20,131.59 L512.00,129.91 L512.80,131.03 L513.60,130.83 L514.40,129.93 L515.20,131.31 L516.00,130.95 L516.80,130.54 L517.60,130.89 L518.40,132.35 L519.20,132.20 L520.00,131.05 L520.80,131.18 L521.60,129.65 L522.40,130.51 L523.20,128.99 L524.00,129.79 L524.80,130.29 L525.60,129.89 L526.40,130.46 L527.20,129.40 L528.00,129.96 L528.80,128.58 L529.60,128.90 L530.40,130.90 L531.20,133.33 L532.00,133.81 L532.80,133.99 L533.60,134.17 L534.40,134.29 L535.20,134.24 L536.00,134.20 L536.80,134.15 L537.60,134.11 L538.40,134.06 L539.20,134.02 L540.00,133.97 L540.80,133.93 L541.60,133.88 L542.40,133.84 L543.20,133.79 L544.00,133.75 L544.80,133.70 L545.60,133.70 L546.40,133.70 L547.20,133.70 L548.00,133.70 L548.80,133.70 L549.60,133.70 L550.40,133.70 L551.20,133.70 L552.00,133.70 L552.80,133.70 L553.60,133.70 L554.40,133.62 L555.20,133.35 L556.00,133.98 L556.80,132.71 L557.60,133.98 L558.40,133.20 L559.20,133.07 L560.00,133.48 L560.80,132.49 L561.60,133.05 L562.40,132.41 L563.20,132.43 L564.00,132.77 L564.80,132.52 L565.60,132.95 L566.40,132.68 L567.20,131.53 L568.00,133.80 L568.80,134.60 L568.80,134.80 Z" fill="#000"/>
<path d="M477.8,28.4 L477.8,134.8 L649.3,134.8 L649.3,28.4" fill="none" stroke="#858585" stroke-width="1.4"/>
<line x1="477.8" y1="49.35" x2="649.3" y2="49.35" stroke="#000" stroke-width="1.35"/>
<line x1="477.8" y1="70.6" x2="649.3" y2="70.6" stroke="#000" stroke-width="1.35"/>
<line x1="477.8" y1="92.3" x2="649.3" y2="92.3" stroke="#000" stroke-width="1.35"/>
<line x1="477.8" y1="113.4" x2="649.3" y2="113.4" stroke="#000" stroke-width="1.35"/>
<line x1="477.8" y1="134.8" x2="649.3" y2="134.8" stroke="#6a6a6a" stroke-width="1.5"/>
<text x="467.8" y="46.5" font-size="13.9" font-family="Liberation Sans, sans-serif" font-weight="bold" stroke="#000" stroke-width="0.3" text-anchor="middle" fill="#000" >1</text>
<text x="467.8" y="67.1" font-size="13.9" font-family="Liberation Sans, sans-serif" font-weight="bold" stroke="#000" stroke-width="0.3" text-anchor="middle" fill="#000" >2</text>
<text x="467.8" y="87.7" font-size="13.9" font-family="Liberation Sans, sans-serif" font-weight="bold" stroke="#000" stroke-width="0.3" text-anchor="middle" fill="#000" >3</text>
<text x="467.8" y="108.3" font-size="13.9" font-family="Liberation Sans, sans-serif" font-weight="bold" stroke="#000" stroke-width="0.3" text-anchor="middle" fill="#000" >4</text>
<text x="467.8" y="128.9" font-size="13.9" font-family="Liberation Sans, sans-serif" font-weight="bold" stroke="#000" stroke-width="0.3" text-anchor="middle" fill="#000" >5</text>
<text x="40.5" y="98.3" font-size="14" font-family="Liberation Sans, sans-serif" font-weight="bold" stroke="#000" stroke-width="0.3" textLength="37.6" lengthAdjust="spacingAndGlyphs" transform="rotate(-90 40.5 98.3)" fill="#000" >Days</text>
<text x="78.4" y="155.0" font-size="14.2" font-family="Liberation Sans, sans-serif" font-weight="bold" stroke="#000" stroke-width="0.3" textLength="34.8" lengthAdjust="spacingAndGlyphs" fill="#000" >Time</text>
<line x1="115.6" y1="150" x2="225.5" y2="150" stroke="#000" stroke-width="2.4"/>
<polyline points="217.0,145.2 225.5,150 217.0,154.8" fill="none" stroke="#000" stroke-width="2.4" stroke-linecap="round" stroke-linejoin="miter"/>
<text x="281.0" y="155.0" font-size="14.2" font-family="Liberation Sans, sans-serif" font-weight="bold" stroke="#000" stroke-width="0.3" textLength="34.8" lengthAdjust="spacingAndGlyphs" fill="#000" >Time</text>
<line x1="318.20000000000005" y1="150" x2="427.9" y2="150" stroke="#000" stroke-width="2.4"/>
<polyline points="419.4,145.2 427.9,150 419.4,154.8" fill="none" stroke="#000" stroke-width="2.4" stroke-linecap="round" stroke-linejoin="miter"/>
<text x="486.4" y="155.0" font-size="14.2" font-family="Liberation Sans, sans-serif" font-weight="bold" stroke="#000" stroke-width="0.3" textLength="34.8" lengthAdjust="spacingAndGlyphs" fill="#000" >Time</text>
<line x1="523.6" y1="150" x2="633.0" y2="150" stroke="#000" stroke-width="2.4"/>
<polyline points="624.5,145.2 633.0,150 624.5,154.8" fill="none" stroke="#000" stroke-width="2.4" stroke-linecap="round" stroke-linejoin="miter"/>
<text x="1.2" y="195" font-size="18" font-family="Liberation Sans, sans-serif" font-weight="bold" stroke="#000" stroke-width="0.3" fill="#000" >b</text>
<line x1="54.85" y1="211.0" x2="217.1" y2="211.0" stroke="#111" stroke-width="1.25"/>
<line x1="54.85" y1="291.5" x2="217.1" y2="291.5" stroke="#111" stroke-width="1.25"/>
<text x="66.8" y="205.8" font-size="13.6" font-family="Liberation Sans, sans-serif" font-weight="bold" stroke="#000" stroke-width="0.3" textLength="124.3" lengthAdjust="spacingAndGlyphs" fill="#000" >Brief Awakenings</text>
<line x1="77.35" y1="351.0" x2="77.35" y2="354.3" stroke="#000" stroke-width="1.6"/>
<line x1="73.65" y1="351.0" x2="81.05" y2="351.0" stroke="#000" stroke-width="1.6"/>
<rect x="68.80" y="354.30" width="17.10" height="17.70" fill="#c9dbf3" stroke="#000" stroke-width="2.3"/>
<line x1="95.05" y1="328.4" x2="95.05" y2="334.0" stroke="#000" stroke-width="1.6"/>
<line x1="91.35" y1="328.4" x2="98.75" y2="328.4" stroke="#000" stroke-width="1.6"/>
<rect x="85.90" y="334.00" width="18.30" height="38.00" fill="#5a8fd7" stroke="#000" stroke-width="2.3"/>
<text x="87.0" y="329.68" font-size="18.5" font-family="Liberation Sans, sans-serif" textLength="17.0" lengthAdjust="spacingAndGlyphs" fill="#000" stroke="#000" stroke-width="0.45">**</text>
<line x1="113.45" y1="304.1" x2="113.45" y2="310.0" stroke="#000" stroke-width="1.6"/>
<line x1="109.75" y1="304.1" x2="117.15" y2="304.1" stroke="#000" stroke-width="1.6"/>
<rect x="104.20" y="310.00" width="18.50" height="62.00" fill="#1a3964" stroke="#000" stroke-width="2.3"/>
<text x="104.7" y="306.28" font-size="18.5" font-family="Liberation Sans, sans-serif" textLength="17.6" lengthAdjust="spacingAndGlyphs" fill="#000" stroke="#000" stroke-width="0.45">**</text>
<line x1="158.45" y1="292.4" x2="158.45" y2="297.3" stroke="#000" stroke-width="1.6"/>
<line x1="154.75" y1="292.4" x2="162.15" y2="292.4" stroke="#000" stroke-width="1.6"/>
<rect x="149.30" y="297.30" width="18.30" height="74.70" fill="#c9dbf3" stroke="#000" stroke-width="2.3"/>
<line x1="176.75" y1="260.4" x2="176.75" y2="267.4" stroke="#000" stroke-width="1.6"/>
<line x1="173.05" y1="260.4" x2="180.45" y2="260.4" stroke="#000" stroke-width="1.6"/>
<rect x="167.60" y="267.40" width="18.30" height="104.60" fill="#5a8fd7" stroke="#000" stroke-width="2.3"/>
<text x="167.0" y="259.88" font-size="18.5" font-family="Liberation Sans, sans-serif" textLength="16.4" lengthAdjust="spacingAndGlyphs" fill="#000" stroke="#000" stroke-width="0.45">**</text>
<line x1="195.05" y1="241.4" x2="195.05" y2="246.9" stroke="#000" stroke-width="1.6"/>
<line x1="191.35" y1="241.4" x2="198.75" y2="241.4" stroke="#000" stroke-width="1.6"/>
<rect x="185.90" y="246.90" width="18.30" height="125.10" fill="#1a3964" stroke="#000" stroke-width="2.3"/>
<text x="185.8" y="239.67" font-size="18.5" font-family="Liberation Sans, sans-serif" textLength="15.6" lengthAdjust="spacingAndGlyphs" fill="#000" stroke="#000" stroke-width="0.45">**</text>
<line x1="54.85" y1="210.0" x2="54.85" y2="373.0" stroke="#000" stroke-width="2.2"/>
<line x1="53.85" y1="372.0" x2="217.6" y2="372.0" stroke="#000" stroke-width="2.4"/>
<line x1="51.050000000000004" y1="211.0" x2="54.85" y2="211.0" stroke="#000" stroke-width="2"/>
<line x1="51.050000000000004" y1="291.5" x2="54.85" y2="291.5" stroke="#000" stroke-width="2"/>
<line x1="51.050000000000004" y1="372.0" x2="54.85" y2="372.0" stroke="#000" stroke-width="2"/>
<line x1="54.85" y1="372.0" x2="54.85" y2="376.5" stroke="#000" stroke-width="2"/>
<line x1="136.3" y1="372.0" x2="136.3" y2="376.5" stroke="#000" stroke-width="2"/>
<line x1="216.7" y1="372.0" x2="216.7" y2="376.5" stroke="#000" stroke-width="2"/>
<text x="23.7" y="217.4" font-size="13" font-family="Liberation Sans, sans-serif" font-weight="bold" stroke="#000" stroke-width="0.3" textLength="19.5" lengthAdjust="spacingAndGlyphs" fill="#000" >6.0</text>
<text x="23.7" y="297.2" font-size="13" font-family="Liberation Sans, sans-serif" font-weight="bold" stroke="#000" stroke-width="0.3" textLength="19.5" lengthAdjust="spacingAndGlyphs" fill="#000" >3.0</text>
<text x="23.7" y="377.0" font-size="13" font-family="Liberation Sans, sans-serif" font-weight="bold" stroke="#000" stroke-width="0.3" textLength="19.5" lengthAdjust="spacingAndGlyphs" fill="#000" >0.0</text>
<text x="16.0" y="350.8" font-size="14" font-family="Liberation Sans, sans-serif" font-weight="bold" stroke="#000" stroke-width="0.3" textLength="120.7" lengthAdjust="spacingAndGlyphs" transform="rotate(-90 16.0 350.8)" fill="#000" >Awakenings / Fly</text>
<rect x="70.60" y="222.00" width="6.2" height="6.2" fill="#c9dbf3" stroke="#000" stroke-width="2.8"/>
<text x="79.4" y="229.8" font-size="12.6" font-family="Liberation Sans, sans-serif" font-weight="bold" stroke="#000" stroke-width="0.3" textLength="48.6" lengthAdjust="spacingAndGlyphs" fill="#000" >Control</text>
<rect x="70.60" y="239.00" width="6.2" height="6.2" fill="#5a8fd7" stroke="#000" stroke-width="2.8"/>
<text x="79.4" y="247.6" font-size="12.6" font-family="Liberation Sans, sans-serif" font-weight="bold" stroke="#000" stroke-width="0.3" textLength="15.8" lengthAdjust="spacingAndGlyphs" fill="#000" >5x</text>
<rect x="70.60" y="256.20" width="6.2" height="6.2" fill="#1a3964" stroke="#000" stroke-width="2.8"/>
<text x="79.4" y="264.8" font-size="12.6" font-family="Liberation Sans, sans-serif" font-weight="bold" stroke="#000" stroke-width="0.3" textLength="23.0" lengthAdjust="spacingAndGlyphs" fill="#000" >10x</text>
<text x="70.6" y="393.2" font-size="13" font-family="Liberation Sans, sans-serif" font-weight="bold" stroke="#000" stroke-width="0.3" textLength="49.2" lengthAdjust="spacingAndGlyphs" fill="#000" >CT 0-12</text>
<text x="148.0" y="393.2" font-size="13" font-family="Liberation Sans, sans-serif" font-weight="bold" stroke="#000" stroke-width="0.3" textLength="56.6" lengthAdjust="spacingAndGlyphs" fill="#000" >CT 12-24</text>
<text x="232.2" y="195" font-size="18" font-family="Liberation Sans, sans-serif" font-weight="bold" stroke="#000" stroke-width="0.3" fill="#000" >c</text>
<line x1="289.0" y1="211.2" x2="450.8" y2="211.2" stroke="#111" stroke-width="1.25"/>
<line x1="289.0" y1="291.6" x2="450.8" y2="291.6" stroke="#111" stroke-width="1.25"/>
<text x="300.9" y="205.8" font-size="13.6" font-family="Liberation Sans, sans-serif" font-weight="bold" stroke="#000" stroke-width="0.3" textLength="127.1" lengthAdjust="spacingAndGlyphs" fill="#000" >Daily Sleep Bouts</text>
<line x1="311.25" y1="355.0" x2="311.25" y2="357.0" stroke="#000" stroke-width="1.6"/>
<line x1="307.55" y1="355.0" x2="314.95" y2="355.0" stroke="#000" stroke-width="1.6"/>
<rect x="302.60" y="357.00" width="17.30" height="14.90" fill="#c9dbf3" stroke="#000" stroke-width="2.3"/>
<line x1="329.05" y1="328.9" x2="329.05" y2="331.4" stroke="#000" stroke-width="1.6"/>
<line x1="325.35" y1="328.9" x2="332.75" y2="328.9" stroke="#000" stroke-width="1.6"/>
<rect x="319.90" y="331.40" width="18.30" height="40.50" fill="#5a8fd7" stroke="#000" stroke-width="2.3"/>
<text x="319.0" y="328.98" font-size="18.5" font-family="Liberation Sans, sans-serif" textLength="17.0" lengthAdjust="spacingAndGlyphs" fill="#000" stroke="#000" stroke-width="0.45">**</text>
<line x1="347.00" y1="315.5" x2="347.00" y2="318.9" stroke="#000" stroke-width="1.6"/>
<line x1="343.30" y1="315.5" x2="350.70" y2="315.5" stroke="#000" stroke-width="1.6"/>
<rect x="338.20" y="318.90" width="17.60" height="53.00" fill="#1a3964" stroke="#000" stroke-width="2.3"/>
<text x="336.7" y="314.68" font-size="18.5" font-family="Liberation Sans, sans-serif" textLength="17.6" lengthAdjust="spacingAndGlyphs" fill="#000" stroke="#000" stroke-width="0.45">**</text>
<line x1="391.60" y1="281.4" x2="391.60" y2="283.6" stroke="#000" stroke-width="1.6"/>
<line x1="387.90" y1="281.4" x2="395.30" y2="281.4" stroke="#000" stroke-width="1.6"/>
<rect x="382.50" y="283.60" width="18.20" height="88.30" fill="#c9dbf3" stroke="#000" stroke-width="2.3"/>
<line x1="409.60" y1="254.5" x2="409.60" y2="258.4" stroke="#000" stroke-width="1.6"/>
<line x1="405.90" y1="254.5" x2="413.30" y2="254.5" stroke="#000" stroke-width="1.6"/>
<rect x="400.70" y="258.40" width="17.80" height="113.50" fill="#5a8fd7" stroke="#000" stroke-width="2.3"/>
<text x="403.7" y="251.38" font-size="18.5" font-family="Liberation Sans, sans-serif" textLength="16.3" lengthAdjust="spacingAndGlyphs" fill="#000" stroke="#000" stroke-width="0.45">**</text>
<line x1="427.75" y1="245.4" x2="427.75" y2="248.9" stroke="#000" stroke-width="1.6"/>
<line x1="424.05" y1="245.4" x2="431.45" y2="245.4" stroke="#000" stroke-width="1.6"/>
<rect x="418.50" y="248.90" width="18.50" height="123.00" fill="#1a3964" stroke="#000" stroke-width="2.3"/>
<text x="421.8" y="242.07" font-size="18.5" font-family="Liberation Sans, sans-serif" textLength="15.8" lengthAdjust="spacingAndGlyphs" fill="#000" stroke="#000" stroke-width="0.45">**</text>
<line x1="289.0" y1="210.2" x2="289.0" y2="372.9" stroke="#000" stroke-width="2.2"/>
<line x1="288.0" y1="371.9" x2="451.3" y2="371.9" stroke="#000" stroke-width="2.4"/>
<line x1="285.2" y1="211.2" x2="289.0" y2="211.2" stroke="#000" stroke-width="2"/>
<line x1="285.2" y1="291.6" x2="289.0" y2="291.6" stroke="#000" stroke-width="2"/>
<line x1="285.2" y1="371.9" x2="289.0" y2="371.9" stroke="#000" stroke-width="2"/>
<line x1="289.0" y1="371.9" x2="289.0" y2="376.4" stroke="#000" stroke-width="2"/>
<line x1="370.2" y1="371.9" x2="370.2" y2="376.4" stroke="#000" stroke-width="2"/>
<line x1="450.40000000000003" y1="371.9" x2="450.40000000000003" y2="376.4" stroke="#000" stroke-width="2"/>
<text x="257.7" y="217.4" font-size="13" font-family="Liberation Sans, sans-serif" font-weight="bold" stroke="#000" stroke-width="0.3" textLength="19.5" lengthAdjust="spacingAndGlyphs" fill="#000" >6.0</text>
<text x="257.7" y="297.3" font-size="13" font-family="Liberation Sans, sans-serif" font-weight="bold" stroke="#000" stroke-width="0.3" textLength="19.5" lengthAdjust="spacingAndGlyphs" fill="#000" >3.0</text>
<text x="257.7" y="377.0" font-size="13" font-family="Liberation Sans, sans-serif" font-weight="bold" stroke="#000" stroke-width="0.3" textLength="19.5" lengthAdjust="spacingAndGlyphs" fill="#000" >0.0</text>
<text x="249.9" y="351.3" font-size="14" font-family="Liberation Sans, sans-serif" font-weight="bold" stroke="#000" stroke-width="0.3" textLength="119.6" lengthAdjust="spacingAndGlyphs" transform="rotate(-90 249.9 351.3)" fill="#000" >Sleep Bouts / Fly</text>
<rect x="302.00" y="218.30" width="6.2" height="6.2" fill="#c9dbf3" stroke="#000" stroke-width="2.8"/>
<text x="311.4" y="226.9" font-size="12.6" font-family="Liberation Sans, sans-serif" font-weight="bold" stroke="#000" stroke-width="0.3" textLength="48.6" lengthAdjust="spacingAndGlyphs" fill="#000" >Control</text>
<rect x="302.00" y="235.40" width="6.2" height="6.2" fill="#5a8fd7" stroke="#000" stroke-width="2.8"/>
<text x="311.4" y="243.6" font-size="12.6" font-family="Liberation Sans, sans-serif" font-weight="bold" stroke="#000" stroke-width="0.3" textLength="15.8" lengthAdjust="spacingAndGlyphs" fill="#000" >5x</text>
<rect x="302.00" y="252.40" width="6.2" height="6.2" fill="#1a3964" stroke="#000" stroke-width="2.8"/>
<text x="311.4" y="260.3" font-size="12.6" font-family="Liberation Sans, sans-serif" font-weight="bold" stroke="#000" stroke-width="0.3" textLength="23.0" lengthAdjust="spacingAndGlyphs" fill="#000" >10x</text>
<text x="304.2" y="393.2" font-size="13" font-family="Liberation Sans, sans-serif" font-weight="bold" stroke="#000" stroke-width="0.3" textLength="49.4" lengthAdjust="spacingAndGlyphs" fill="#000" >CT 0-12</text>
<text x="381.5" y="393.2" font-size="13" font-family="Liberation Sans, sans-serif" font-weight="bold" stroke="#000" stroke-width="0.3" textLength="56.3" lengthAdjust="spacingAndGlyphs" fill="#000" >CT 12-24</text>
<text x="464.3" y="195" font-size="18" font-family="Liberation Sans, sans-serif" font-weight="bold" stroke="#000" stroke-width="0.3" fill="#000" >d</text>
<line x1="523.8" y1="211.2" x2="681.5" y2="211.2" stroke="#111" stroke-width="1.25"/>
<line x1="523.8" y1="290.7" x2="681.5" y2="290.7" stroke="#111" stroke-width="1.25"/>
<text x="530.2" y="205.8" font-size="13.6" font-family="Liberation Sans, sans-serif" font-weight="bold" stroke="#000" stroke-width="0.3" textLength="144.9" lengthAdjust="spacingAndGlyphs" fill="#000" >Sleep Bout Duration</text>
<line x1="545.70" y1="345.5" x2="545.70" y2="349.9" stroke="#000" stroke-width="1.6"/>
<line x1="542.00" y1="345.5" x2="549.40" y2="345.5" stroke="#000" stroke-width="1.6"/>
<rect x="537.00" y="349.90" width="17.40" height="20.90" fill="#c9dbf3" stroke="#000" stroke-width="2.3"/>
<line x1="563.20" y1="333.9" x2="563.20" y2="335.8" stroke="#000" stroke-width="1.6"/>
<line x1="559.50" y1="333.9" x2="566.90" y2="333.9" stroke="#000" stroke-width="1.6"/>
<rect x="554.40" y="335.80" width="17.60" height="35.00" fill="#5a8fd7" stroke="#000" stroke-width="2.3"/>
<text x="554.1" y="334.58" font-size="18.5" font-family="Liberation Sans, sans-serif" textLength="16.2" lengthAdjust="spacingAndGlyphs" fill="#000" stroke="#000" stroke-width="0.45">**</text>
<line x1="580.85" y1="289.2" x2="580.85" y2="294.3" stroke="#000" stroke-width="1.6"/>
<line x1="577.15" y1="289.2" x2="584.55" y2="289.2" stroke="#000" stroke-width="1.6"/>
<rect x="572.00" y="294.30" width="17.70" height="76.50" fill="#1a3964" stroke="#000" stroke-width="2.3"/>
<text x="572.7" y="287.68" font-size="18.5" font-family="Liberation Sans, sans-serif" textLength="16.2" lengthAdjust="spacingAndGlyphs" fill="#000" stroke="#000" stroke-width="0.45">**</text>
<line x1="624.80" y1="222.0" x2="624.80" y2="229.7" stroke="#000" stroke-width="1.6"/>
<line x1="621.10" y1="222.0" x2="628.50" y2="222.0" stroke="#000" stroke-width="1.6"/>
<rect x="616.30" y="229.70" width="17.00" height="141.10" fill="#c9dbf3" stroke="#000" stroke-width="2.3"/>
<line x1="641.90" y1="261.4" x2="641.90" y2="265.3" stroke="#000" stroke-width="1.6"/>
<line x1="638.20" y1="261.4" x2="645.60" y2="261.4" stroke="#000" stroke-width="1.6"/>
<rect x="633.30" y="265.30" width="17.20" height="105.50" fill="#5a8fd7" stroke="#000" stroke-width="2.3"/>
<text x="634.9" y="261.18" font-size="18.5" font-family="Liberation Sans, sans-serif" textLength="17.0" lengthAdjust="spacingAndGlyphs" fill="#000" stroke="#000" stroke-width="0.45">**</text>
<line x1="659.80" y1="317.6" x2="659.80" y2="322.3" stroke="#000" stroke-width="1.6"/>
<line x1="656.10" y1="317.6" x2="663.50" y2="317.6" stroke="#000" stroke-width="1.6"/>
<rect x="650.50" y="322.30" width="18.60" height="48.50" fill="#1a3964" stroke="#000" stroke-width="2.3"/>
<text x="653.2" y="316.38" font-size="18.5" font-family="Liberation Sans, sans-serif" textLength="16.9" lengthAdjust="spacingAndGlyphs" fill="#000" stroke="#000" stroke-width="0.45">**</text>
<line x1="523.8" y1="210.2" x2="523.8" y2="371.8" stroke="#000" stroke-width="2.2"/>
<line x1="522.8" y1="370.8" x2="682.0" y2="370.8" stroke="#000" stroke-width="2.4"/>
<line x1="520.0" y1="211.2" x2="523.8" y2="211.2" stroke="#000" stroke-width="2"/>
<line x1="520.0" y1="290.7" x2="523.8" y2="290.7" stroke="#000" stroke-width="2"/>
<line x1="520.0" y1="370.8" x2="523.8" y2="370.8" stroke="#000" stroke-width="2"/>
<line x1="523.8" y1="370.8" x2="523.8" y2="375.3" stroke="#000" stroke-width="2"/>
<line x1="603.0" y1="370.8" x2="603.0" y2="375.3" stroke="#000" stroke-width="2"/>
<line x1="681.1" y1="370.8" x2="681.1" y2="375.3" stroke="#000" stroke-width="2"/>
<text x="511.8" y="217.2" font-size="13" font-family="Liberation Sans, sans-serif" font-weight="bold" stroke="#000" stroke-width="0.3" text-anchor="end" fill="#000" >100</text>
<text x="511.9" y="296.7" font-size="13" font-family="Liberation Sans, sans-serif" font-weight="bold" stroke="#000" stroke-width="0.3" text-anchor="end" fill="#000" >50</text>
<text x="511.8" y="376.3" font-size="13" font-family="Liberation Sans, sans-serif" font-weight="bold" stroke="#000" stroke-width="0.3" text-anchor="end" fill="#000" >0</text>
<text x="483.2" y="350.0" font-size="14" font-family="Liberation Sans, sans-serif" font-weight="bold" stroke="#000" stroke-width="0.3" textLength="116.3" lengthAdjust="spacingAndGlyphs" transform="rotate(-90 483.2 350.0)" fill="#000" >Min / Sleep Bout</text>
<rect x="531.40" y="216.70" width="6.2" height="6.2" fill="#c9dbf3" stroke="#000" stroke-width="2.8"/>
<text x="540.4" y="225.0" font-size="12.6" font-family="Liberation Sans, sans-serif" font-weight="bold" stroke="#000" stroke-width="0.3" textLength="48.6" lengthAdjust="spacingAndGlyphs" fill="#000" >Control</text>
<rect x="531.40" y="233.70" width="6.2" height="6.2" fill="#5a8fd7" stroke="#000" stroke-width="2.8"/>
<text x="540.4" y="242.2" font-size="12.6" font-family="Liberation Sans, sans-serif" font-weight="bold" stroke="#000" stroke-width="0.3" textLength="15.8" lengthAdjust="spacingAndGlyphs" fill="#000" >5x</text>
<rect x="531.40" y="250.90" width="6.2" height="6.2" fill="#1a3964" stroke="#000" stroke-width="2.8"/>
<text x="540.4" y="259.5" font-size="12.6" font-family="Liberation Sans, sans-serif" font-weight="bold" stroke="#000" stroke-width="0.3" textLength="23.0" lengthAdjust="spacingAndGlyphs" fill="#000" >10x</text>
<text x="538.6" y="393.2" font-size="13" font-family="Liberation Sans, sans-serif" font-weight="bold" stroke="#000" stroke-width="0.3" textLength="49.3" lengthAdjust="spacingAndGlyphs" fill="#000" >CT 0-12</text>
<text x="612.1" y="393.2" font-size="13" font-family="Liberation Sans, sans-serif" font-weight="bold" stroke="#000" stroke-width="0.3" textLength="56.8" lengthAdjust="spacingAndGlyphs" fill="#000" >CT 12-24</text>
</svg>
</body></html>
